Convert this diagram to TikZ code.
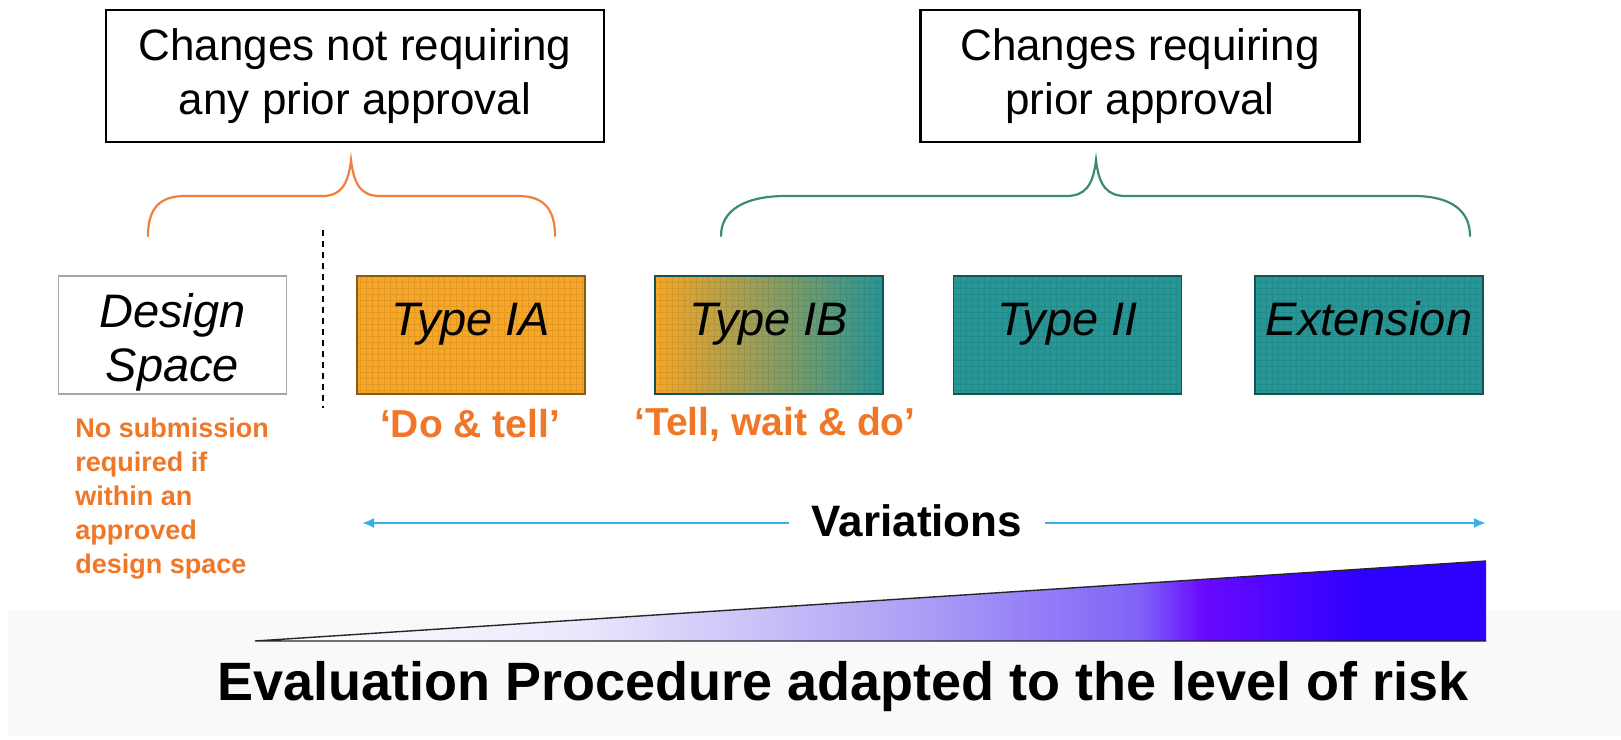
\documentclass[tikz,border=0pt]{standalone}
\usepackage{fontspec}
\setmainfont{Liberation Sans}
\usetikzlibrary{arrows.meta}

\definecolor{iaorange}{RGB}{247,166,38}
\definecolor{tealbox}{RGB}{38,150,150}
\definecolor{labelorange}{RGB}{240,118,40}
\definecolor{braceorange}{RGB}{240,128,60}
\definecolor{bracegreen}{RGB}{58,140,112}
\definecolor{varblue}{RGB}{58,176,230}
\definecolor{lavA}{RGB}{236,232,252}
\definecolor{lavB}{RGB}{172,158,245}
\definecolor{lavC}{RGB}{128,98,248}
\definecolor{riskpurple}{RGB}{105,10,255}
\definecolor{riskblue}{RGB}{45,0,255}

% risk wedge: white on the left, deep blue on the right
\pgfdeclarehorizontalshading{riskshade}{100bp}{%
  color(0bp)=(white); color(25bp)=(white); color(38bp)=(lavA);
  color(52bp)=(lavB); color(61bp)=(lavC); color(63.5bp)=(riskpurple);
  color(70bp)=(riskblue); color(100bp)=(riskblue)}

\begin{document}
\begin{tikzpicture}[x=0.5pt,y=-0.5pt,
  headbox/.style={draw=black, line width=1.4pt, fill=white, align=center,
    inner sep=0pt, font=\fontsize{22}{27}\selectfont},
  typebox/.style={minimum width=114pt, minimum height=59pt, inner sep=0pt,
    line width=0.8pt},
  typetext/.style={font=\itshape\fontsize{23.5}{27}\selectfont,
    text height=0.75em, text depth=0.25em, inner sep=0pt},
  gridline/.style={draw=black, opacity=0.08, line width=0.3pt},
  orangelabel/.style={text=labelorange, inner sep=0pt,
    font=\bfseries\fontsize{19.5}{23}\selectfont},
  note/.style={text=labelorange, align=left, inner sep=0pt,
    font=\bfseries\fontsize{13.5}{17}\selectfont},
  brace/.style={line width=1.1pt, line cap=round},
  vararrow/.style={draw=varblue, line width=1pt, -{Latex[length=6pt,width=5pt]}}
]
\useasboundingbox (0,0) rectangle (1621,739);
\fill[white] (0,0) rectangle (1621,739);
\fill[black!2.5] (8,610) rectangle (1621,736);

% headings
\node[headbox, minimum width=249pt, minimum height=66pt] (noapp) at (355,76)
  {Changes not requiring\\any prior approval};
\node[headbox, minimum width=219.5pt, minimum height=66pt] (app) at (1140,76)
  {Changes requiring\\prior approval};

% braces
\draw[brace, draw=braceorange] (148,236) .. controls (148,208) and (160,196) .. (185,196)
  -- (322,196) .. controls (340,196) and (348,186) .. (351,160)
  .. controls (354,186) and (362,196) .. (380,196)
  -- (518,196) .. controls (543,196) and (555,208) .. (555,236);
\draw[brace, draw=bracegreen] (721,236) .. controls (721,210) and (745,196) .. (786,196)
  -- (1066,196) .. controls (1085,196) and (1093,186) .. (1096,160)
  .. controls (1099,186) and (1107,196) .. (1126,196)
  -- (1414,196) .. controls (1450,196) and (1470,210) .. (1470,236);

% separator
\coordinate (dtop) at (323,230);
\coordinate (dbot) at (323,408);
\draw[line width=0.8pt, dash pattern=on 3pt off 2.5pt] (dtop) -- (dbot);

% procedure boxes
\node[typebox, draw=gray!70, fill=white] (ds) at (172.5,335) {};
\node[typebox, fill=iaorange, draw=iaorange!55!black] (ia) at (471,335) {};
\node[typebox, left color=iaorange, right color=tealbox, draw=tealbox!55!black] (ib) at (769,335) {};
\node[typebox, fill=tealbox, draw=tealbox!55!black] (t2) at (1067.5,335) {};
\node[typebox, fill=tealbox, draw=tealbox!55!black] (ext) at (1369,335) {};
\foreach \b in {ia,ib,t2,ext}{
  \draw[gridline] ([shift={(1pt,1pt)}]\b.south west) grid[step=3pt] ([shift={(-1pt,-1pt)}]\b.north east);
}
\node[align=center, inner sep=0pt, font=\itshape\fontsize{23.5}{27}\selectfont]
  (dstext) at ([yshift=-3.5pt]ds.center) {Design\\Space};
\node[typetext] (iatext) at ([yshift=2.5pt]ia.center) {Type IA};
\node[typetext] (ibtext) at ([yshift=2.5pt]ib.center) {Type IB};
\node[typetext] (t2text) at ([yshift=2.5pt]t2.center) {Type II};
\node[typetext] (exttext) at ([yshift=2.5pt]ext.center) {Extension};

% labels under the boxes
\node[orangelabel] (dotell) at (470,424) {‘Do \& tell’};
\node[orangelabel] (tellwait) at (775,424) {‘Tell, wait \& do’};
\node[note, anchor=north west] (nosub) at (75,418)
  {No submission\\required if\\within an\\approved\\design space};

% variations
\node[font=\bfseries\fontsize{22}{26}\selectfont, inner xsep=11pt, inner ysep=0pt] (var) at (917,521) {Variations};
\coordinate (varL) at (362,523);
\coordinate (varR) at (1486,523);
\draw[vararrow] (var.west |- varL) -- (varL);
\draw[vararrow] (var.east |- varR) -- (varR);

% risk wedge
\coordinate (rA) at (255,641);
\coordinate (rB) at (1486,641);
\coordinate (rC) at (1486,561);
\shade[shading=riskshade] (rA) -- (rB) -- (rC) -- cycle;
\draw[black!85, line width=0.7pt] (rC) -- (rA) -- (rB);

\node[font=\bfseries\fontsize{27}{32}\selectfont, inner sep=0pt] (risk) at (843,687)
  {Evaluation Procedure adapted to the level of risk};
\end{tikzpicture}
\end{document}
